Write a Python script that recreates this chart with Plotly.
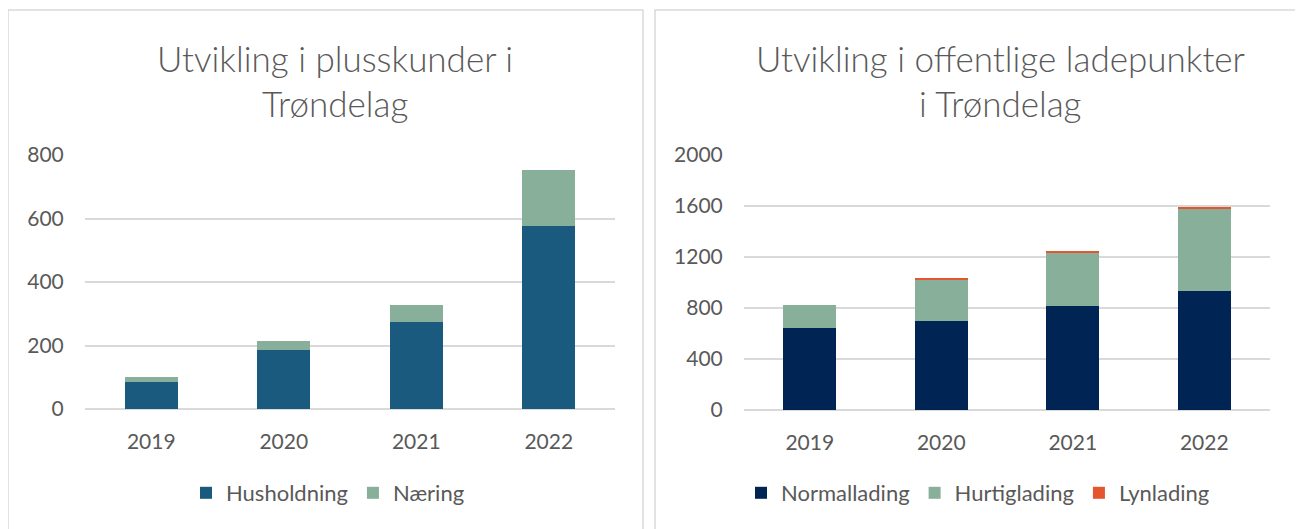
import plotly.graph_objects as go

OFF = 8  # page body margin in the browser
W, H = 1303 - OFF, 529 - OFF

years = ["2019", "2020", "2021", "2022"]
husholdning = [86, 187, 274, 577]
naering = [14, 26, 53, 176]

normallading = [646, 701, 817, 932]
hurtiglading = [181, 326, 421, 647]
lynlading = [0, 8, 8, 16]

left_ticks = [0, 200, 400, 600, 800]
right_ticks = [0, 400, 800, 1200, 1600, 2000]

TXT = "#595959"
GRID = "#d9d9d9"
FONT = "Lato"

def px_x(v):
    return (v - OFF) / W

def px_y(v):
    return 1 - (v - OFF) / H

fig = go.Figure()

fig.add_trace(go.Bar(x=years, y=husholdning, name="Husholdning", marker_color="#1a5a7e",
                     xaxis="x", yaxis="y", legend="legend"))
fig.add_trace(go.Bar(x=years, y=naering, name="Næring", marker_color="#87af9a",
                     xaxis="x", yaxis="y", legend="legend"))
fig.add_trace(go.Bar(x=years, y=normallading, name="Normallading", marker_color="#002454",
                     xaxis="x2", yaxis="y2", legend="legend2"))
fig.add_trace(go.Bar(x=years, y=hurtiglading, name="Hurtiglading", marker_color="#87af9a",
                     xaxis="x2", yaxis="y2", legend="legend2"))
fig.add_trace(go.Bar(x=years, y=lynlading, name="Lynlading", marker_color="#e4572e",
                     xaxis="x2", yaxis="y2", legend="legend2"))

for tr in fig.data:
    tr.marker.line.width = 0

tickfont = dict(family=FONT, size=21, color=TXT)

xcommon = dict(type="category", showgrid=False, showline=False, zeroline=False,
               ticks="outside", ticklen=14, tickcolor="rgba(0,0,0,0)", tickfont=tickfont,
               automargin=False)
ycommon = dict(showgrid=True, gridcolor=GRID, gridwidth=1.5, zeroline=True,
               zerolinecolor=GRID, zerolinewidth=1.5, showline=False,
               ticks="outside", ticklen=16, tickcolor="rgba(0,0,0,0)", tickfont=tickfont,
               automargin=False)

legfont = dict(family=FONT, size=22, color=TXT)

fig.update_layout(
    width=W, height=H,
    margin=dict(l=0, r=0, t=0, b=0, autoexpand=False),
    paper_bgcolor="white", plot_bgcolor="white",
    barmode="stack", bargap=0.6,
    font=dict(family=FONT, color=TXT),
    xaxis=dict(domain=[px_x(85), px_x(615)], anchor="y", **xcommon),
    yaxis=dict(domain=[px_y(409), px_y(155)], anchor="x", range=[0, 800],
               tickvals=left_ticks, **ycommon),
    xaxis2=dict(domain=[px_x(744), px_x(1270)], anchor="y2", **xcommon),
    yaxis2=dict(domain=[px_y(410), px_y(155)], anchor="x2", range=[0, 2000],
                tickvals=right_ticks, **ycommon),
    legend=dict(orientation="h", x=px_x(328), xanchor="center", y=px_y(493), yanchor="middle",
                font=legfont, bgcolor="rgba(0,0,0,0)", itemclick=False, traceorder="normal"),
    legend2=dict(orientation="h", x=px_x(978), xanchor="center", y=px_y(493), yanchor="middle",
                 font=legfont, bgcolor="rgba(0,0,0,0)", itemclick=False, traceorder="normal"),
    showlegend=True,
)

# panel borders
for x0, x1 in [(8, 643), (655, 1299)]:
    fig.add_shape(type="rect", xref="paper", yref="paper",
                  x0=px_x(x0), x1=px_x(x1), y0=px_y(540), y1=px_y(10),
                  line=dict(color=GRID, width=1.5), fillcolor="rgba(0,0,0,0)", layer="below")

titlefont = dict(family=FONT, size=35, color=TXT, weight=300)
titles = [
    (335, 58, "Utvikling i plusskunder i"),
    (335, 103, "Trøndelag"),
    (1000, 58, "Utvikling i offentlige ladepunkter"),
    (1000, 103, "i Trøndelag"),
]
for cx, cy, t in titles:
    fig.add_annotation(text=t, xref="paper", yref="paper", x=px_x(cx), y=px_y(cy),
                       xanchor="center", yanchor="middle", showarrow=False, font=titlefont)

fig.write_html("out.html")
